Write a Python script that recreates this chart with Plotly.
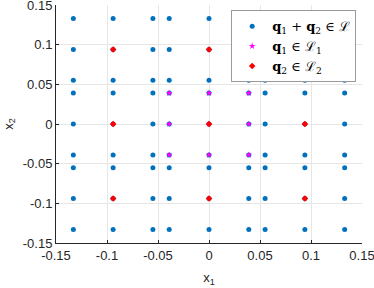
import itertools
import plotly.graph_objects as go

# Lattice coordinates
l1_coords = [-0.039, 0.0, 0.039]          # q1 in L1 (magenta stars)
l2_coords = [-0.094, 0.0, 0.094]          # q2 in L2 (red diamonds)
sum_coords = [-0.133, -0.094, -0.055, -0.039, 0.0, 0.039, 0.055, 0.094, 0.133]  # q1+q2 in L
tick_vals = [-0.15, -0.1, -0.05, 0, 0.05, 0.1, 0.15]
tick_text = ["-0.15", "-0.1", "-0.05", "0", "0.05", "0.1", "0.15"]

def grid(coords):
    pts = list(itertools.product(coords, coords))
    return [p[0] for p in pts], [p[1] for p in pts]

sx, sy = grid(sum_coords)
ax1, ay1 = grid(l1_coords)
ax2, ay2 = grid(l2_coords)

fig = go.Figure()
fig.add_trace(go.Scatter(x=sx, y=sy, mode="markers",
                         marker=dict(symbol="circle", size=5, color="#0072BD"),
                         name="<b>q</b><sub>1</sub> + <b>q</b><sub>2</sub> ∈ ℒ"))
fig.add_trace(go.Scatter(x=ax1, y=ay1, mode="markers",
                         marker=dict(symbol="star", size=5, color="#FF00FF"),
                         name="<b>q</b><sub>1</sub> ∈ ℒ<sub>1</sub>"))
fig.add_trace(go.Scatter(x=ax2, y=ay2, mode="markers",
                         marker=dict(symbol="diamond", size=5, color="#FF0000"),
                         name="<b>q</b><sub>2</sub> ∈ ℒ<sub>2</sub>"))

axis_common = dict(range=[-0.15, 0.15], tickvals=tick_vals, ticktext=tick_text,
                   showgrid=True, gridcolor="#E6E6E6", gridwidth=1,
                   zeroline=False, showline=True, linecolor="#262626", linewidth=1,
                   mirror=False, ticks="inside", ticklen=3, tickcolor="#262626",
                   ticklabeloverflow="allow", automargin=False,
                   tickfont=dict(family="Liberation Sans, Arial", size=13, color="#262626"))

fig.update_layout(
    width=374, height=288,
    margin=dict(l=56, r=12, t=5, b=45, autoexpand=False),
    paper_bgcolor="white", plot_bgcolor="white",
    xaxis=dict(**axis_common,
               title=dict(text="x<sub>1</sub>", standoff=11,
                          font=dict(family="Liberation Sans, Arial", size=13, color="#262626"))),
    yaxis=dict(**axis_common,
               title=dict(text="x<sub>2</sub>", standoff=6,
                          font=dict(family="Liberation Sans, Arial", size=13, color="#262626"))),
    legend=dict(x=0.981, y=0.978, xanchor="right", yanchor="top",
                bgcolor="white", bordercolor="#9A9A9A", borderwidth=1,
                font=dict(family="DejaVu Serif, Liberation Serif", size=13, color="black"),
                itemsizing="trace", itemwidth=30, tracegroupgap=0),
    showlegend=True,
)

fig.write_html("out.html", config={"displayModeBar": False},
               post_script="document.body.style.margin='0';document.body.style.overflow='hidden';")
